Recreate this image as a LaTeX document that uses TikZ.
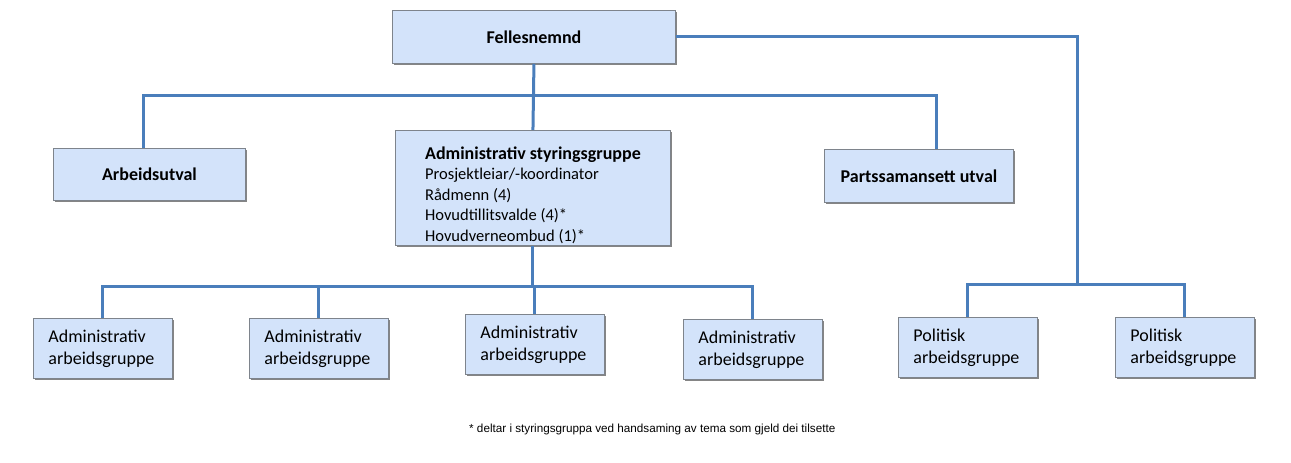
\documentclass[tikz,border=0pt]{standalone}
\usepackage{fontspec,xcolor,tikz}
\setmainfont{Carlito}
\newfontfamily\notefamily{Liberation Sans}
\usetikzlibrary{shadows,calc}
\definecolor{boxfill}{HTML}{D3E3FA}
\definecolor{boxline}{HTML}{7E848C}
\definecolor{linkblue}{HTML}{4A7EBB}
\newcommand{\boxhead}{\fontsize{18}{22}\selectfont\bfseries}
\newcommand{\boxlist}{\fontsize{16.5}{20.5}\selectfont}
\newcommand{\boxtext}{\fontsize{18}{22}\selectfont}
\newcommand{\fnotefont}{\notefamily\fontsize{11.7}{14}\selectfont}
\tikzset{
  orgbox/.style={draw=boxline,line width=0.9pt,fill=boxfill,
    drop shadow={shadow xshift=1.4pt,shadow yshift=-1.4pt,fill=black!60,opacity=0.8},
    inner sep=0,anchor=north west},
  headbox/.style={orgbox,font=\boxhead,align=center},
  grpbox/.style={orgbox,font=\boxtext,align=left,text width=109pt,inner xsep=15pt,minimum height=60pt},
  link/.style={linkblue,line width=3pt}
}
\begin{document}
\begin{tikzpicture}[x=1pt,y=-1pt]
\useasboundingbox (0,0) rectangle (1291,463);
% top level
\node[headbox,minimum width=283pt,minimum height=53pt] (fn) at (392,10) {Fellesnemnd};
\node[headbox,minimum width=192pt,minimum height=52pt] (au) at (53,148) {Arbeidsutval};
\node[headbox,minimum width=189pt,minimum height=53pt] (pu) at (824,149) {Partssamansett utval};
\node[orgbox,font=\boxlist,align=left,minimum width=275pt,minimum height=115pt] (asg) at (395,130)
  {\rule{0pt}{27pt}{\boxhead Administrativ styringsgruppe}\\
   Prosjektleiar/-koordinator\\
   Rådmenn (4)\\
   Hovudtillitsvalde (4)*\\
   Hovudverneombud (1)*};
% working groups
\node[grpbox] (ag1) at (33,318) {Administrativ\\arbeidsgruppe};
\node[grpbox] (ag2) at (249,318) {Administrativ\\arbeidsgruppe};
\node[grpbox] (ag3) at (465,314) {Administrativ\\arbeidsgruppe};
\node[grpbox] (ag4) at (683,319) {Administrativ\\arbeidsgruppe};
\node[grpbox] (pa1) at (898,317) {Politisk\\arbeidsgruppe};
\node[grpbox] (pa2) at (1115,317) {Politisk\\arbeidsgruppe};
% connectors
\coordinate (hubtop) at ($(fn.south)+(0,32)$);
\coordinate (hubadm) at (asg.south |- 0,286);
\coordinate (hubpol) at (1077,284);
\draw[link] (fn.south) -- (asg.north);
\draw[link] ([xshift=-6pt]au.north) |- (hubtop) -| ([xshift=18pt]pu.north);
\draw[link] (fn.east) -| (hubpol);
\draw[link] (pa1.north) |- (hubpol) -| (pa2.north);
\draw[link] (asg.south) -- (hubadm);
\draw[link] (ag1.north) |- (hubadm) -| (ag4.north);
\draw[link] (ag2.north) -- (ag2.north |- hubadm);
\draw[link] (ag3.north) -- (ag3.north |- hubadm);
% note
\node[anchor=west,inner sep=0,font=\fnotefont] (note) at (469,429) {* deltar i styringsgruppa ved handsaming av tema som gjeld dei tilsette};
\end{tikzpicture}
\end{document}
